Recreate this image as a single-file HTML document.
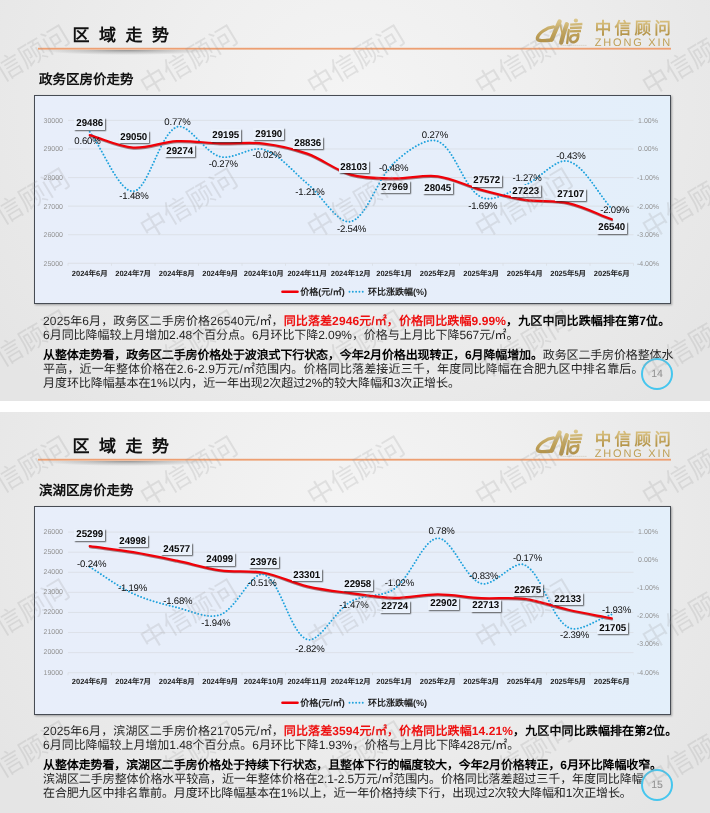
<!DOCTYPE html>
<html lang="zh-CN">
<head>
<meta charset="utf-8">
<title>区域走势</title>
<style>
html,body{margin:0;padding:0;}
*{text-rendering:geometricPrecision;}
body{width:710px;height:813px;background:#ffffff;position:relative;overflow:hidden;font-family:"Liberation Sans",sans-serif;color:#111;}
.slide{will-change:transform;position:absolute;left:0;width:710px;height:402px;overflow:hidden;
 background:radial-gradient(ellipse 62% 100% at 50% 25%, #f4f4f4 0%, #efefef 40%, #e5e5e5 100%);}
.wm{position:absolute;width:130px;height:34px;line-height:34px;margin:-17px 0 0 -65px;text-align:center;font-size:27px;font-weight:300;color:#9a9a9a;opacity:.21;transform:rotate(-31deg);white-space:nowrap;letter-spacing:0;}
.title{position:absolute;left:72.6px;top:24.1px;height:24px;line-height:24px;font-size:17px;font-weight:bold;letter-spacing:9.5px;color:#111;white-space:nowrap;}
.rule{position:absolute;left:38px;top:47px;width:633px;height:3px;background:linear-gradient(180deg,rgba(237,160,114,.22) 0,rgba(237,160,114,.22) 33.3%,#ed9f72 33.3%,#ed9f72 66.7%,rgba(237,160,114,.62) 66.7%,rgba(237,160,114,.62) 100%);}
.ruleshadow{position:absolute;left:38px;top:49.5px;width:178px;height:5.5px;background:radial-gradient(ellipse 50% 100% at 50% 0%, rgba(95,95,95,.62) 0%, rgba(110,110,110,.32) 45%, rgba(120,120,120,0) 100%);}
.brand{position:absolute;left:594.8px;top:19px;width:90px;height:20px;line-height:20px;font-size:16.6px;font-weight:bold;color:#c2a258;letter-spacing:3.2px;white-space:nowrap;background:linear-gradient(180deg,#d6bd7c 15%,#b08f43 85%);-webkit-background-clip:text;background-clip:text;-webkit-text-fill-color:transparent;}
.brand2{position:absolute;left:594.8px;top:36.9px;width:90px;height:13px;line-height:13px;font-size:11px;color:#bfa057;letter-spacing:1.8px;white-space:nowrap;}
.logo{position:absolute;left:535px;top:16px;width:52px;height:30px;}
.sub{position:absolute;left:39px;top:70.2px;height:19px;line-height:19px;font-size:13.5px;letter-spacing:0;font-weight:bold;color:#111;white-space:nowrap;}
.chart{position:absolute;left:34px;top:95px;width:635.3px;height:207.2px;background:linear-gradient(90deg,#e8eefa 0%,#e6eefa 70%,#e3effa 100%);border:1px solid #474c54;box-shadow:1px 1px 2px rgba(0,0,0,.32);box-sizing:content-box;}
.svg{position:absolute;left:0;top:0;width:710px;height:401px;}
.yl{position:absolute;left:36px;width:27px;height:10px;line-height:10px;margin-top:-3.6px;text-align:right;font-size:7px;color:#939393;}
.yr{position:absolute;left:633px;width:30px;height:10px;line-height:10px;margin-top:-3.6px;text-align:center;font-size:7px;color:#939393;}
.xl{position:absolute;width:44px;margin-left:-22px;height:10px;line-height:10px;margin-top:-5px;text-align:center;font-size:7.5px;font-weight:bold;color:#1a1a1a;white-space:nowrap;}
.pl{position:absolute;width:30.4px;height:12.2px;line-height:12.2px;margin:-5.4px 0 0 -15.1px;text-align:center;font-size:9.9px;font-weight:bold;color:#0a0a0a;background:#eaf1fb;box-shadow:1.3px 1.3px 1.2px rgba(40,40,40,.72);white-space:nowrap;}
.pl span{display:inline-block;transform:scaleX(.98);transform-origin:50% 50%;position:relative;top:0.6px;}
.cl{position:absolute;width:40px;height:12px;line-height:12px;margin:-4.8px 0 0 -20px;text-align:center;font-size:9.6px;letter-spacing:-0.2px;color:#0e0e0e;white-space:nowrap;}
.lg{position:absolute;height:12px;line-height:12px;margin-top:-6px;font-size:9px;font-weight:bold;color:#222;white-space:nowrap;}
.tl{position:absolute;left:43.1px;height:16px;line-height:16px;margin-top:-7.3px;font-size:12px;color:#242424;white-space:nowrap;transform-origin:0 50%;}
.tl b{font-weight:bold;color:#000;}
.tl .r{font-weight:bold;color:#ee1111;}
.m2{display:inline-block;width:1em;text-align:center;}
.pg{position:absolute;left:640.9px;width:28.2px;height:28.2px;border:2px solid #46c6ee;border-radius:50%;line-height:28.2px;text-align:center;font-size:10.5px;color:#8f8f8f;}
</style>
</head>
<body>
<div class="slide" id="s0" style="top:0px">
<div class="title">区域走势</div>
<div class="ruleshadow"></div><div class="rule"></div>
<svg class="logo" viewBox="0 0 52 30"><defs><linearGradient id="gd0" gradientUnits="userSpaceOnUse" x1="0" y1="3" x2="0" y2="28"><stop offset="0" stop-color="#ddc98f"/><stop offset=".5" stop-color="#c2a55e"/><stop offset="1" stop-color="#b08f45"/></linearGradient></defs><g fill="none" stroke="url(#gd0)" stroke-linecap="round" stroke-linejoin="round">
<path d="M18.6,10.9 C11.5,11.4 3,17.6 2.3,22.2 C1.9,25.4 9,25 16.2,24" stroke-width="3.3"/>
<path d="M24.6,5.4 C22,11 19.2,17.6 16.8,23.4" stroke-width="4.3"/>
<path d="M25,5.6 C25.6,10 26.6,15 27.6,18.6" stroke-width="1.8"/>
<path d="M31.8,8.2 C30,13 27.8,20 26.2,26.6" stroke-width="4.3"/>
<path d="M33.8,14 L32.2,27" stroke-width="2.3"/>
<path d="M35.2,8.6 L47.4,8 M35,12 L46.8,11.5 M34.8,15.4 L46,15" stroke-width="2.4" stroke-linecap="butt"/>
<path d="M43.2,18 C43.4,21 42.6,24.8 39.5,25.9 C36.2,26.9 34.3,24.4 35.4,21.5 C36.3,19 40,18.6 42.8,19.5" stroke-width="2.6"/>
<circle cx="40.9" cy="4.5" r="2.1" fill="url(#gd0)" stroke="none"/>
<path d="M25.5,29.4 L52,29.4" stroke="#b8a88a" stroke-width=".7" stroke-dasharray="1.3 .7" stroke-opacity=".6" stroke-linecap="butt"/>
</g></svg>
<div class="brand">中信顾问</div><div class="brand2">ZHONG XIN</div>
<div class="sub">政务区房价走势</div>
<div class="chart"></div>
<svg class="svg" viewBox="0 0 710 401"><line x1="68.0" y1="120.40" x2="633.5" y2="120.40" stroke="#d9dde3" stroke-width="0.8"/><line x1="68.0" y1="148.98" x2="633.5" y2="148.98" stroke="#d9dde3" stroke-width="0.8"/><line x1="68.0" y1="177.56" x2="633.5" y2="177.56" stroke="#d9dde3" stroke-width="0.8"/><line x1="68.0" y1="206.14" x2="633.5" y2="206.14" stroke="#d9dde3" stroke-width="0.8"/><line x1="68.0" y1="234.72" x2="633.5" y2="234.72" stroke="#d9dde3" stroke-width="0.8"/><line x1="68.0" y1="263.30" x2="633.5" y2="263.30" stroke="#d9dde3" stroke-width="0.8"/><line x1="68.00" y1="263.30" x2="68.00" y2="265.80" stroke="#d9dde3" stroke-width="0.8"/><line x1="111.50" y1="263.30" x2="111.50" y2="265.80" stroke="#d9dde3" stroke-width="0.8"/><line x1="155.00" y1="263.30" x2="155.00" y2="265.80" stroke="#d9dde3" stroke-width="0.8"/><line x1="198.50" y1="263.30" x2="198.50" y2="265.80" stroke="#d9dde3" stroke-width="0.8"/><line x1="242.00" y1="263.30" x2="242.00" y2="265.80" stroke="#d9dde3" stroke-width="0.8"/><line x1="285.50" y1="263.30" x2="285.50" y2="265.80" stroke="#d9dde3" stroke-width="0.8"/><line x1="329.00" y1="263.30" x2="329.00" y2="265.80" stroke="#d9dde3" stroke-width="0.8"/><line x1="372.50" y1="263.30" x2="372.50" y2="265.80" stroke="#d9dde3" stroke-width="0.8"/><line x1="416.00" y1="263.30" x2="416.00" y2="265.80" stroke="#d9dde3" stroke-width="0.8"/><line x1="459.50" y1="263.30" x2="459.50" y2="265.80" stroke="#d9dde3" stroke-width="0.8"/><line x1="503.00" y1="263.30" x2="503.00" y2="265.80" stroke="#d9dde3" stroke-width="0.8"/><line x1="546.50" y1="263.30" x2="546.50" y2="265.80" stroke="#d9dde3" stroke-width="0.8"/><line x1="590.00" y1="263.30" x2="590.00" y2="265.80" stroke="#d9dde3" stroke-width="0.8"/><line x1="633.50" y1="263.30" x2="633.50" y2="265.80" stroke="#d9dde3" stroke-width="0.8"/><path d="M89.75,135.09 C104.25,139.24 118.54,146.53 133.25,147.55 C147.54,148.55 162.18,141.84 176.75,141.15 C191.18,140.46 205.74,143.01 220.25,143.41 C234.74,143.81 249.44,141.86 263.75,143.55 C278.44,145.28 293.31,148.69 307.25,153.67 C322.31,159.05 335.52,170.28 350.75,174.62 C364.52,178.54 379.73,178.17 394.25,178.45 C408.73,178.72 423.58,174.43 437.75,176.27 C452.58,178.21 466.60,185.84 481.25,189.79 C495.60,193.67 510.09,197.53 524.75,199.77 C539.09,201.96 554.20,199.93 568.25,203.08 C583.20,206.44 597.25,213.89 611.75,219.29" fill="none" stroke="#5a0a0a" stroke-opacity=".5" stroke-width="2.2" stroke-linecap="round" transform="translate(0.3,1.0)"/><path d="M89.75,131.83 C104.25,151.65 119.13,192.07 133.25,191.28 C148.13,190.45 159.47,133.84 176.75,126.97 C188.47,122.31 204.46,152.60 220.25,156.70 C233.46,160.13 250.88,145.58 263.75,149.55 C279.88,154.53 293.08,171.83 307.25,183.56 C322.08,195.84 337.96,224.64 350.75,221.57 C366.96,217.69 376.81,178.80 394.25,162.70 C405.81,152.03 425.97,136.58 437.75,141.26 C454.97,148.11 463.53,188.31 481.25,197.28 C492.53,202.99 510.95,190.99 524.75,185.28 C539.95,178.99 555.62,157.87 568.25,161.27 C584.62,165.68 597.25,192.90 611.75,208.71" fill="none" stroke="#1ea2dd" stroke-width="1.9" stroke-linecap="round" stroke-dasharray="0.01 3.3"/><path d="M89.75,135.09 C104.25,139.24 118.54,146.53 133.25,147.55 C147.54,148.55 162.18,141.84 176.75,141.15 C191.18,140.46 205.74,143.01 220.25,143.41 C234.74,143.81 249.44,141.86 263.75,143.55 C278.44,145.28 293.31,148.69 307.25,153.67 C322.31,159.05 335.52,170.28 350.75,174.62 C364.52,178.54 379.73,178.17 394.25,178.45 C408.73,178.72 423.58,174.43 437.75,176.27 C452.58,178.21 466.60,185.84 481.25,189.79 C495.60,193.67 510.09,197.53 524.75,199.77 C539.09,201.96 554.20,199.93 568.25,203.08 C583.20,206.44 597.25,213.89 611.75,219.29" fill="none" stroke="#f00008" stroke-width="2.25" stroke-linecap="round"/><line x1="282.5" y1="291.8" x2="297.5" y2="291.8" stroke="#f00008" stroke-width="2.6" stroke-linecap="round"/><line x1="349.5" y1="291.8" x2="364.5" y2="291.8" stroke="#1ea2dd" stroke-width="1.9" stroke-linecap="round" stroke-dasharray="0.01 3.3"/></svg>
<div class="yl" style="top:120.4px">30000</div>
<div class="yl" style="top:149.0px">29000</div>
<div class="yl" style="top:177.6px">28000</div>
<div class="yl" style="top:206.1px">27000</div>
<div class="yl" style="top:234.7px">26000</div>
<div class="yl" style="top:263.3px">25000</div>
<div class="yr" style="top:120.4px">1.00%</div>
<div class="yr" style="top:149.0px">0.00%</div>
<div class="yr" style="top:177.6px">-1.00%</div>
<div class="yr" style="top:206.1px">-2.00%</div>
<div class="yr" style="top:234.7px">-3.00%</div>
<div class="yr" style="top:263.3px">-4.00%</div>
<div class="xl" style="left:89.8px;top:273.8px">2024年6月</div>
<div class="xl" style="left:133.2px;top:273.8px">2024年7月</div>
<div class="xl" style="left:176.8px;top:273.8px">2024年8月</div>
<div class="xl" style="left:220.2px;top:273.8px">2024年9月</div>
<div class="xl" style="left:263.8px;top:273.8px">2024年10月</div>
<div class="xl" style="left:307.2px;top:273.8px">2024年11月</div>
<div class="xl" style="left:350.8px;top:273.8px">2024年12月</div>
<div class="xl" style="left:394.2px;top:273.8px">2025年1月</div>
<div class="xl" style="left:437.8px;top:273.8px">2025年2月</div>
<div class="xl" style="left:481.2px;top:273.8px">2025年3月</div>
<div class="xl" style="left:524.8px;top:273.8px">2025年4月</div>
<div class="xl" style="left:568.2px;top:273.8px">2025年5月</div>
<div class="xl" style="left:611.8px;top:273.8px">2025年6月</div>
<div class="lg" style="left:300.3px;top:292.3px">价格(元/<span class="m2">㎡</span>)</div>
<div class="lg" style="left:367.9px;top:292.3px">环比涨跌幅(%)</div>
<div class="cl" style="left:87.4px;top:140.9px">0.60%</div>
<div class="cl" style="left:133.9px;top:196.2px">-1.48%</div>
<div class="cl" style="left:177.4px;top:121.4px">0.77%</div>
<div class="cl" style="left:223.3px;top:163.8px">-0.27%</div>
<div class="cl" style="left:267.1px;top:154.9px">-0.02%</div>
<div class="cl" style="left:309.9px;top:191.9px">-1.21%</div>
<div class="cl" style="left:351.6px;top:228.7px">-2.54%</div>
<div class="cl" style="left:393.7px;top:167.6px">-0.48%</div>
<div class="cl" style="left:434.9px;top:134.8px">0.27%</div>
<div class="cl" style="left:482.8px;top:205.6px">-1.69%</div>
<div class="cl" style="left:527.0px;top:177.7px">-1.27%</div>
<div class="cl" style="left:570.9px;top:156.1px">-0.43%</div>
<div class="cl" style="left:614.8px;top:209.4px">-2.09%</div>
<div class="pl" style="left:89.4px;top:123.2px"><span>29486</span></div>
<div class="pl" style="left:133.9px;top:136.6px"><span>29050</span></div>
<div class="pl" style="left:180.1px;top:150.6px"><span>29274</span></div>
<div class="pl" style="left:225.7px;top:134.8px"><span>29195</span></div>
<div class="pl" style="left:268.3px;top:133.6px"><span>29190</span></div>
<div class="pl" style="left:307.7px;top:142.5px"><span>28836</span></div>
<div class="pl" style="left:354.0px;top:166.5px"><span>28103</span></div>
<div class="pl" style="left:395.1px;top:186.6px"><span>27969</span></div>
<div class="pl" style="left:437.7px;top:187.3px"><span>28045</span></div>
<div class="pl" style="left:487.1px;top:180.2px"><span>27572</span></div>
<div class="pl" style="left:525.7px;top:190.5px"><span>27223</span></div>
<div class="pl" style="left:570.5px;top:193.9px"><span>27107</span></div>
<div class="pl" style="left:612.1px;top:227.1px"><span>26540</span></div>
<div class="tl" style="top:320.2px;letter-spacing:0.105px">2025年6月，政务区二手房价格26540元/<span class="m2">㎡</span>，<span class="r">同比落差2946元/<span class="m2">㎡</span>，价格同比跌幅9.99%</span><b>，九区中同比跌幅排在第7位。</b></div>
<div class="tl" style="top:334.6px;letter-spacing:-0.061px">6月同比降幅较上月增加2.48个百分点。6月环比下降2.09%，价格与上月比下降567元/<span class="m2">㎡</span>。</div>
<div class="tl" style="top:354.3px;letter-spacing:-0.132px"><b>从整体走势看，政务区二手房价格处于波浪式下行状态，今年2月价格出现转正，6月降幅增加。</b>政务区二手房价格整体水</div>
<div class="tl" style="top:368.1px;letter-spacing:0.147px">平高，近一年整体价格在2.6-2.9万元/<span class="m2">㎡</span>范围内。价格同比落差接近三千，年度同比降幅在合肥九区中排名靠后。</div>
<div class="tl" style="top:382.5px;letter-spacing:-0.089px">月度环比降幅基本在1%以内，近一年出现2次超过2%的较大降幅和3次正增长。</div>
<div class="pg" style="top:357.8px">14</div>
<div class="wm" style="left:21.3px;top:61px">中信顾问</div>
<div class="wm" style="left:188.8px;top:61px">中信顾问</div>
<div class="wm" style="left:356.3px;top:61px">中信顾问</div>
<div class="wm" style="left:523.8px;top:61px">中信顾问</div>
<div class="wm" style="left:691.3px;top:61px">中信顾问</div>
<div class="wm" style="left:21.3px;top:203.5px">中信顾问</div>
<div class="wm" style="left:188.8px;top:203.5px">中信顾问</div>
<div class="wm" style="left:356.3px;top:203.5px">中信顾问</div>
<div class="wm" style="left:523.8px;top:203.5px">中信顾问</div>
<div class="wm" style="left:691.3px;top:203.5px">中信顾问</div>
<div class="wm" style="left:21.3px;top:346px">中信顾问</div>
<div class="wm" style="left:188.8px;top:346px">中信顾问</div>
<div class="wm" style="left:356.3px;top:346px">中信顾问</div>
<div class="wm" style="left:523.8px;top:346px">中信顾问</div>
<div class="wm" style="left:691.3px;top:346px">中信顾问</div>
</div>
<div class="slide" id="s1" style="top:411px">
<div class="title">区域走势</div>
<div class="ruleshadow"></div><div class="rule"></div>
<svg class="logo" viewBox="0 0 52 30"><defs><linearGradient id="gd1" gradientUnits="userSpaceOnUse" x1="0" y1="3" x2="0" y2="28"><stop offset="0" stop-color="#ddc98f"/><stop offset=".5" stop-color="#c2a55e"/><stop offset="1" stop-color="#b08f45"/></linearGradient></defs><g fill="none" stroke="url(#gd1)" stroke-linecap="round" stroke-linejoin="round">
<path d="M18.6,10.9 C11.5,11.4 3,17.6 2.3,22.2 C1.9,25.4 9,25 16.2,24" stroke-width="3.3"/>
<path d="M24.6,5.4 C22,11 19.2,17.6 16.8,23.4" stroke-width="4.3"/>
<path d="M25,5.6 C25.6,10 26.6,15 27.6,18.6" stroke-width="1.8"/>
<path d="M31.8,8.2 C30,13 27.8,20 26.2,26.6" stroke-width="4.3"/>
<path d="M33.8,14 L32.2,27" stroke-width="2.3"/>
<path d="M35.2,8.6 L47.4,8 M35,12 L46.8,11.5 M34.8,15.4 L46,15" stroke-width="2.4" stroke-linecap="butt"/>
<path d="M43.2,18 C43.4,21 42.6,24.8 39.5,25.9 C36.2,26.9 34.3,24.4 35.4,21.5 C36.3,19 40,18.6 42.8,19.5" stroke-width="2.6"/>
<circle cx="40.9" cy="4.5" r="2.1" fill="url(#gd1)" stroke="none"/>
<path d="M25.5,29.4 L52,29.4" stroke="#b8a88a" stroke-width=".7" stroke-dasharray="1.3 .7" stroke-opacity=".6" stroke-linecap="butt"/>
</g></svg>
<div class="brand">中信顾问</div><div class="brand2">ZHONG XIN</div>
<div class="sub">滨湖区房价走势</div>
<div class="chart"></div>
<svg class="svg" viewBox="0 0 710 401"><line x1="68.0" y1="121.10" x2="633.5" y2="121.10" stroke="#d9dde3" stroke-width="0.8"/><line x1="68.0" y1="141.19" x2="633.5" y2="141.19" stroke="#d9dde3" stroke-width="0.8"/><line x1="68.0" y1="161.27" x2="633.5" y2="161.27" stroke="#d9dde3" stroke-width="0.8"/><line x1="68.0" y1="181.36" x2="633.5" y2="181.36" stroke="#d9dde3" stroke-width="0.8"/><line x1="68.0" y1="201.44" x2="633.5" y2="201.44" stroke="#d9dde3" stroke-width="0.8"/><line x1="68.0" y1="221.53" x2="633.5" y2="221.53" stroke="#d9dde3" stroke-width="0.8"/><line x1="68.0" y1="241.61" x2="633.5" y2="241.61" stroke="#d9dde3" stroke-width="0.8"/><line x1="68.0" y1="261.70" x2="633.5" y2="261.70" stroke="#d9dde3" stroke-width="0.8"/><line x1="68.00" y1="261.70" x2="68.00" y2="264.20" stroke="#d9dde3" stroke-width="0.8"/><line x1="111.50" y1="261.70" x2="111.50" y2="264.20" stroke="#d9dde3" stroke-width="0.8"/><line x1="155.00" y1="261.70" x2="155.00" y2="264.20" stroke="#d9dde3" stroke-width="0.8"/><line x1="198.50" y1="261.70" x2="198.50" y2="264.20" stroke="#d9dde3" stroke-width="0.8"/><line x1="242.00" y1="261.70" x2="242.00" y2="264.20" stroke="#d9dde3" stroke-width="0.8"/><line x1="285.50" y1="261.70" x2="285.50" y2="264.20" stroke="#d9dde3" stroke-width="0.8"/><line x1="329.00" y1="261.70" x2="329.00" y2="264.20" stroke="#d9dde3" stroke-width="0.8"/><line x1="372.50" y1="261.70" x2="372.50" y2="264.20" stroke="#d9dde3" stroke-width="0.8"/><line x1="416.00" y1="261.70" x2="416.00" y2="264.20" stroke="#d9dde3" stroke-width="0.8"/><line x1="459.50" y1="261.70" x2="459.50" y2="264.20" stroke="#d9dde3" stroke-width="0.8"/><line x1="503.00" y1="261.70" x2="503.00" y2="264.20" stroke="#d9dde3" stroke-width="0.8"/><line x1="546.50" y1="261.70" x2="546.50" y2="264.20" stroke="#d9dde3" stroke-width="0.8"/><line x1="590.00" y1="261.70" x2="590.00" y2="264.20" stroke="#d9dde3" stroke-width="0.8"/><line x1="633.50" y1="261.70" x2="633.50" y2="264.20" stroke="#d9dde3" stroke-width="0.8"/><path d="M89.75,135.18 C104.25,137.20 118.82,138.82 133.25,141.23 C147.82,143.65 162.29,146.68 176.75,149.68 C191.29,152.70 205.59,157.25 220.25,159.28 C234.59,161.27 249.57,159.14 263.75,161.75 C278.57,164.48 292.50,171.85 307.25,175.31 C321.50,178.66 336.20,180.26 350.75,182.20 C365.20,184.13 379.73,186.71 394.25,186.90 C408.73,187.09 423.25,183.29 437.75,183.33 C452.25,183.36 466.72,186.36 481.25,187.12 C495.72,187.88 510.47,185.97 524.75,187.89 C539.47,189.86 553.67,195.51 568.25,198.77 C582.67,202.00 597.25,204.50 611.75,207.37" fill="none" stroke="#5a0a0a" stroke-opacity=".5" stroke-width="2.2" stroke-linecap="round" transform="translate(0.3,1.0)"/><path d="M89.75,155.97 C104.25,164.87 117.94,175.56 133.25,182.68 C146.94,189.05 162.00,192.89 176.75,196.46 C191.00,199.92 207.87,208.45 220.25,203.77 C236.87,197.49 251.25,160.01 263.75,163.56 C280.25,168.25 290.57,223.34 307.25,228.52 C319.57,232.34 334.50,200.01 350.75,190.56 C363.50,183.14 382.52,186.43 394.25,177.90 C411.52,165.34 422.81,128.20 437.75,127.29 C451.81,126.42 464.71,167.48 481.25,172.56 C493.71,176.39 513.63,148.40 524.75,154.00 C542.63,163.02 550.08,206.09 568.25,216.43 C579.08,222.59 597.25,207.80 611.75,203.49" fill="none" stroke="#1ea2dd" stroke-width="1.9" stroke-linecap="round" stroke-dasharray="0.01 3.3"/><path d="M89.75,135.18 C104.25,137.20 118.82,138.82 133.25,141.23 C147.82,143.65 162.29,146.68 176.75,149.68 C191.29,152.70 205.59,157.25 220.25,159.28 C234.59,161.27 249.57,159.14 263.75,161.75 C278.57,164.48 292.50,171.85 307.25,175.31 C321.50,178.66 336.20,180.26 350.75,182.20 C365.20,184.13 379.73,186.71 394.25,186.90 C408.73,187.09 423.25,183.29 437.75,183.33 C452.25,183.36 466.72,186.36 481.25,187.12 C495.72,187.88 510.47,185.97 524.75,187.89 C539.47,189.86 553.67,195.51 568.25,198.77 C582.67,202.00 597.25,204.50 611.75,207.37" fill="none" stroke="#f00008" stroke-width="2.25" stroke-linecap="round"/><line x1="282.5" y1="291.8" x2="297.5" y2="291.8" stroke="#f00008" stroke-width="2.6" stroke-linecap="round"/><line x1="349.5" y1="291.8" x2="364.5" y2="291.8" stroke="#1ea2dd" stroke-width="1.9" stroke-linecap="round" stroke-dasharray="0.01 3.3"/></svg>
<div class="yl" style="top:120.5px">26000</div>
<div class="yl" style="top:140.6px">25000</div>
<div class="yl" style="top:160.7px">24000</div>
<div class="yl" style="top:180.8px">23000</div>
<div class="yl" style="top:200.8px">22000</div>
<div class="yl" style="top:220.9px">21000</div>
<div class="yl" style="top:241.0px">20000</div>
<div class="yl" style="top:261.1px">19000</div>
<div class="yr" style="top:120.5px">1.00%</div>
<div class="yr" style="top:148.6px">0.00%</div>
<div class="yr" style="top:176.7px">-1.00%</div>
<div class="yr" style="top:204.9px">-2.00%</div>
<div class="yr" style="top:233.0px">-3.00%</div>
<div class="yr" style="top:261.1px">-4.00%</div>
<div class="xl" style="left:89.8px;top:271.0px">2024年6月</div>
<div class="xl" style="left:133.2px;top:271.0px">2024年7月</div>
<div class="xl" style="left:176.8px;top:271.0px">2024年8月</div>
<div class="xl" style="left:220.2px;top:271.0px">2024年9月</div>
<div class="xl" style="left:263.8px;top:271.0px">2024年10月</div>
<div class="xl" style="left:307.2px;top:271.0px">2024年11月</div>
<div class="xl" style="left:350.8px;top:271.0px">2024年12月</div>
<div class="xl" style="left:394.2px;top:271.0px">2025年1月</div>
<div class="xl" style="left:437.8px;top:271.0px">2025年2月</div>
<div class="xl" style="left:481.2px;top:271.0px">2025年3月</div>
<div class="xl" style="left:524.8px;top:271.0px">2025年4月</div>
<div class="xl" style="left:568.2px;top:271.0px">2025年5月</div>
<div class="xl" style="left:611.8px;top:271.0px">2025年6月</div>
<div class="lg" style="left:300.3px;top:292.3px">价格(元/<span class="m2">㎡</span>)</div>
<div class="lg" style="left:367.9px;top:292.3px">环比涨跌幅(%)</div>
<div class="cl" style="left:91.7px;top:152.8px">-0.24%</div>
<div class="cl" style="left:132.5px;top:176.4px">-1.19%</div>
<div class="cl" style="left:177.8px;top:189.6px">-1.68%</div>
<div class="cl" style="left:215.8px;top:211.9px">-1.94%</div>
<div class="cl" style="left:262.1px;top:171.9px">-0.51%</div>
<div class="cl" style="left:309.9px;top:237.3px">-2.82%</div>
<div class="cl" style="left:353.9px;top:194.2px">-1.47%</div>
<div class="cl" style="left:399.4px;top:171.3px">-1.02%</div>
<div class="cl" style="left:441.5px;top:119.9px">0.78%</div>
<div class="cl" style="left:483.7px;top:164.8px">-0.83%</div>
<div class="cl" style="left:527.5px;top:146.8px">-0.17%</div>
<div class="cl" style="left:574.5px;top:224.1px">-2.39%</div>
<div class="cl" style="left:616.5px;top:198.7px">-1.93%</div>
<div class="pl" style="left:89.4px;top:123.2px"><span>25299</span></div>
<div class="pl" style="left:132.6px;top:129.5px"><span>24998</span></div>
<div class="pl" style="left:176.3px;top:137.6px"><span>24577</span></div>
<div class="pl" style="left:220.0px;top:147.8px"><span>24099</span></div>
<div class="pl" style="left:263.6px;top:150.3px"><span>23976</span></div>
<div class="pl" style="left:306.7px;top:163.5px"><span>23301</span></div>
<div class="pl" style="left:358.0px;top:173.1px"><span>22958</span></div>
<div class="pl" style="left:394.8px;top:195.2px"><span>22724</span></div>
<div class="pl" style="left:443.4px;top:192.1px"><span>22902</span></div>
<div class="pl" style="left:486.1px;top:194.2px"><span>22713</span></div>
<div class="pl" style="left:527.7px;top:178.7px"><span>22675</span></div>
<div class="pl" style="left:568.1px;top:187.6px"><span>22133</span></div>
<div class="pl" style="left:612.3px;top:216.7px"><span>21705</span></div>
<div class="tl" style="top:319.0px;letter-spacing:0.110px">2025年6月，滨湖区二手房价格21705元/<span class="m2">㎡</span>，<span class="r">同比落差3594元/<span class="m2">㎡</span>，价格同比跌幅14.21%</span><b>，九区中同比跌幅排在第2位。</b></div>
<div class="tl" style="top:333.0px;letter-spacing:-0.043px">6月同比降幅较上月增加1.48个百分点。6月环比下降1.93%，价格与上月比下降428元/<span class="m2">㎡</span>。</div>
<div class="tl" style="top:353.3px;letter-spacing:-0.123px"><b>从整体走势看，滨湖区二手房价格处于持续下行状态，且整体下行的幅度较大，今年2月价格转正，6月环比降幅收窄。</b></div>
<div class="tl" style="top:367.0px;letter-spacing:-0.078px">滨湖区二手房整体价格水平较高，近一年整体价格在2.1-2.5万元/<span class="m2">㎡</span>范围内。价格同比落差超过三千，年度同比降幅</div>
<div class="tl" style="top:381.2px;letter-spacing:-0.120px">在合肥九区中排名靠前。月度环比降幅基本在1%以上，近一年价格持续下行，出现过2次较大降幅和1次正增长。</div>
<div class="pg" style="top:357.7px">15</div>
<div class="wm" style="left:21.3px;top:61px">中信顾问</div>
<div class="wm" style="left:188.8px;top:61px">中信顾问</div>
<div class="wm" style="left:356.3px;top:61px">中信顾问</div>
<div class="wm" style="left:523.8px;top:61px">中信顾问</div>
<div class="wm" style="left:691.3px;top:61px">中信顾问</div>
<div class="wm" style="left:21.3px;top:203.5px">中信顾问</div>
<div class="wm" style="left:188.8px;top:203.5px">中信顾问</div>
<div class="wm" style="left:356.3px;top:203.5px">中信顾问</div>
<div class="wm" style="left:523.8px;top:203.5px">中信顾问</div>
<div class="wm" style="left:691.3px;top:203.5px">中信顾问</div>
<div class="wm" style="left:21.3px;top:346px">中信顾问</div>
<div class="wm" style="left:188.8px;top:346px">中信顾问</div>
<div class="wm" style="left:356.3px;top:346px">中信顾问</div>
<div class="wm" style="left:523.8px;top:346px">中信顾问</div>
<div class="wm" style="left:691.3px;top:346px">中信顾问</div>
</div>
<div style="position:absolute;left:0;top:401px;width:710px;height:11px;background:#ffffff"></div>
</body></html>
